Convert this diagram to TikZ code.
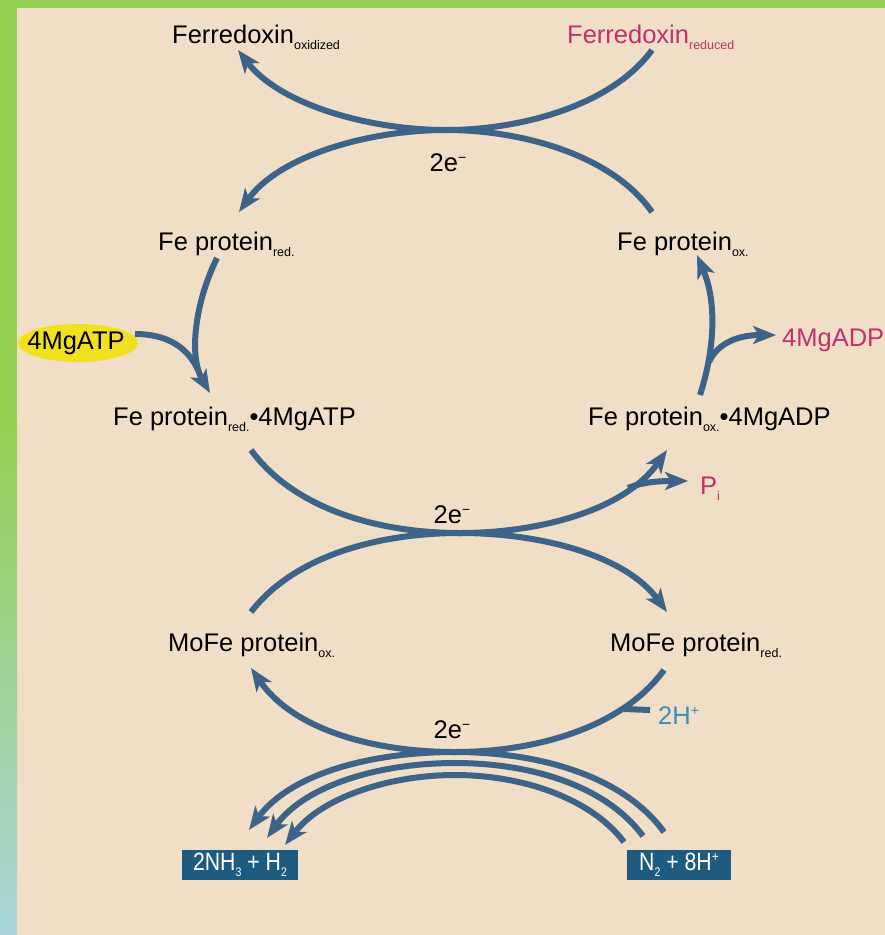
\documentclass[tikz,border=0pt]{standalone}
\usepackage{fontspec}
\setmainfont{Liberation Sans}
\usetikzlibrary{arrows.meta,shapes.geometric}
\definecolor{bgc}{HTML}{F1DEC7}
\definecolor{grn}{HTML}{92D050}
\definecolor{lblue}{HTML}{A8D6DC}
\definecolor{arr}{HTML}{3D6488}
\definecolor{mag}{HTML}{C2306E}
\definecolor{hcol}{HTML}{3A8DB8}
\definecolor{boxc}{HTML}{1D5C80}
\definecolor{yel}{HTML}{F0E020}
\newcommand{\sbs}[1]{\raisebox{-6pt}{\fontsize{12.5}{12.5}\selectfont #1}}
\newcommand{\sps}[1]{\raisebox{9pt}{\fontsize{14}{14}\selectfont #1}}
\begin{document}
\begin{tikzpicture}[x=1pt,y=-1pt,
  every node/.style={font=\fontsize{25.5}{30}\selectfont, inner sep=0pt},
  lbl/.style={anchor=base west},
  flow/.style={draw=arr, line width=6pt},
  tip/.style={-{Stealth[length=23pt,width=18pt,inset=6pt]}},
  prod/.style={fill=boxc, text=white, minimum width=116pt, minimum height=30pt, font=\fontsize{25}{26}\selectfont}]
% background and frame
\useasboundingbox (0,0) rectangle (885,935);
\fill[bgc] (0,0) rectangle (885,935);
\fill[grn] (0,0) rectangle (885,8);
\fill[grn] (0,8) rectangle (17,420);
\shade[top color=grn, bottom color=lblue] (0,420) rectangle (17,935);

% labels
\node[lbl] (fdox) at (172,43) {Ferredoxin\sbs{oxidized}};
\node[lbl, text=mag] (fdred) at (567,43) {Ferredoxin\sbs{reduced}};
\node[anchor=base] (e1) at (448,171) {2e\sps{−}};
\node[lbl] (fered) at (158,250) {Fe protein\sbs{red.}};
\node[lbl] (feox) at (617,250) {Fe protein\sbs{ox.}};
\fill[yel] (78,343) ellipse [x radius=60, y radius=19];
\node (atp) at (76,343) {4MgATP};
\node[lbl, text=mag] (adp) at (782,346) {4MgADP};
\node[lbl] (feredatp) at (113,425) {Fe protein\sbs{red.}•4MgATP};
\node[lbl] (feoxadp) at (588,425) {Fe protein\sbs{ox.}•4MgADP};
\node[lbl, text=mag] (pi) at (700,494) {P\sbs{i}};
\node[anchor=base] (e2) at (452,523) {2e\sps{−}};
\node[lbl] (moox) at (168,651) {MoFe protein\sbs{ox.}};
\node[lbl] (mored) at (610,651) {MoFe protein\sbs{red.}};
\node[lbl, text=hcol] (hp) at (658,724) {2H\sps{+}};
\node[anchor=base] (e3) at (452,738) {2e\sps{−}};
\node[prod] (nh3) at (240,865) {\scalebox{0.85}[1]{2NH\sbs{3} + H\sbs{2}}};
\node[prod, minimum width=104pt] (n2) at (679,865) {\scalebox{0.85}[1]{N\sbs{2} + 8H\sps{+}}};

% connector end points
\coordinate (t1) at (652,50);
\coordinate (t2) at (238,50);
\coordinate (tx) at (446,130);
\coordinate (t3) at (239,212);
\coordinate (t4) at (652,212);
\coordinate (mx) at (460,533);
\coordinate (m1) at (251,450);
\coordinate (m2) at (667,450);
\coordinate (m3) at (251,612);
\coordinate (m4) at (667,612);
\coordinate (mpi) at (688,481);
\coordinate (bx) at (455,752);
\coordinate (b1) at (664,670);
\coordinate (b2) at (251,668);
\coordinate (bh) at (650,710);
\coordinate (o1) at (664,832);
\coordinate (o2) at (249,830);
\coordinate (c1) at (643,836);
\coordinate (c2) at (267,838);
\coordinate (i1) at (624,842);
\coordinate (i2) at (285,845);
\coordinate (a1) at (217,258);
\coordinate (a2) at (210,393);
\coordinate (d1) at (700,395);
\coordinate (d2) at (697,255);
\coordinate (dadp) at (776,335);

% top: ferredoxin / Fe protein
\draw[flow,tip] (t1) .. controls (612,105) and (522,130) .. (tx) .. controls (370,130) and (280,105) .. (t2);
\draw[flow,tip] (t4) .. controls (612,155) and (522,130) .. (tx) .. controls (370,130) and (280,155) .. (t3);

% left: Fe protein red -> Fe protein red . 4MgATP
\draw[flow,tip] (a1) .. controls (196,300) and (188,355) .. (a2);
\draw[flow] (135,334) .. controls (168,334) and (188,348) .. (198,370);

% right: Fe protein ox . 4MgADP -> Fe protein ox
\draw[flow,tip] (d1) .. controls (716,345) and (716,300) .. (d2);
\draw[flow,tip] (709,362) .. controls (718,342) and (740,335) .. (dadp);

% middle X
\draw[flow,tip] (m1) .. controls (295,510) and (380,533) .. (mx) .. controls (540,533) and (625,510) .. (m2);
\draw[flow,tip] (628,488) .. controls (645,481) and (665,481) .. (mpi);
\draw[flow,tip] (m3) .. controls (295,555) and (380,533) .. (mx) .. controls (540,533) and (625,555) .. (m4);

% bottom X
\draw[flow,tip] (b1) .. controls (622,728) and (535,752) .. (bx) .. controls (370,752) and (292,728) .. (b2);
\draw[flow] (bh) -- (624,709);
\draw[flow,tip] (o1) .. controls (622,774) and (535,752) .. (bx) .. controls (370,752) and (290,774) .. (o2);
\draw[flow,tip] (c1) .. controls (605,785) and (530,763) .. (455,763) .. controls (380,763) and (305,785) .. (c2);
\draw[flow,tip] (i1) .. controls (590,797) and (520,775) .. (455,775) .. controls (390,775) and (322,797) .. (i2);
\end{tikzpicture}
\end{document}
